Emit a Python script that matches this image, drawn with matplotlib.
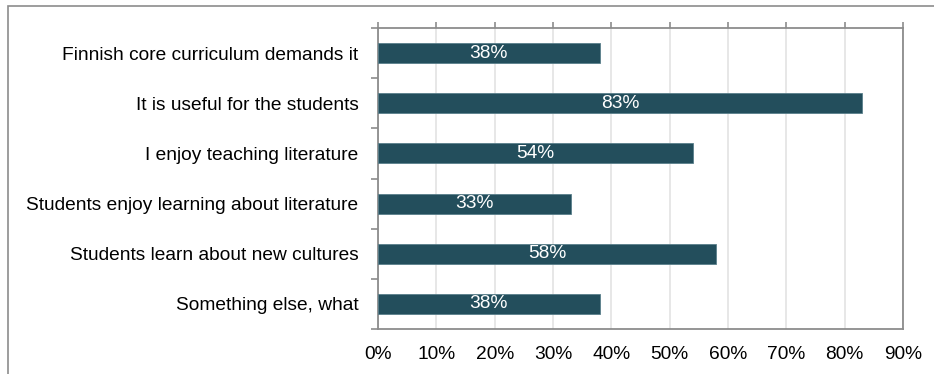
import matplotlib.pyplot as plt
from matplotlib.patches import Rectangle
from matplotlib.ticker import FixedLocator, PercentFormatter

plt.rcParams['font.family'] = ['Liberation Sans', 'DejaVu Sans']

# reasons for teaching literature, share of respondents (%)
reasons = [
    "Finnish core curriculum demands it",
    "It is useful for the students",
    "I enjoy teaching literature",
    "Students enjoy learning about literature",
    "Students learn about new cultures",
    "Something else, what",
]
shares = [38, 83, 54, 33, 58, 38]

bar_color = "#234e5c"
axis_gray = "#8c8c8c"
fs = 13.8

fig = plt.figure(figsize=(9.34, 3.74), dpi=100)
ax = fig.add_axes([378 / 934, 45 / 374, 525 / 934, 301 / 374])

ypos = list(range(len(reasons)))
bars = ax.barh(ypos, shares, height=0.4, color=bar_color,
               edgecolor="#5a7f8b", linewidth=0.6, zorder=3)
for b, v in zip(bars, shares):
    ax.text(b.get_width() / 2, b.get_y() + b.get_height() / 2, f"{v}%",
            ha="center", va="center", color="white", fontsize=fs, zorder=4)

ax.set_ylim(len(reasons) - 0.5, -0.5)
ax.set_xlim(0, 90)
ax.set_yticks(ypos)
ax.set_yticklabels(reasons, fontsize=fs)
ax.yaxis.set_minor_locator(FixedLocator([i - 0.5 for i in range(len(reasons) + 1)]))
ax.tick_params(axis="y", which="major", length=0, pad=14)
ax.tick_params(axis="y", which="minor", length=5, width=1.2, color=axis_gray)

ax.set_xticks(range(0, 91, 10))
ax.xaxis.set_major_formatter(PercentFormatter(decimals=0))
ax.tick_params(axis="x", labelsize=fs, length=4, width=1.2, color=axis_gray,
               direction="out", bottom=False, top=True, labeltop=False,
               labelbottom=True, pad=8)

ax.grid(axis="x", color="#e3e3e3", linewidth=1.2, zorder=0)
for s in ax.spines.values():
    s.set_color(axis_gray)
    s.set_linewidth(1.3)

# frame around the whole chart area
fig.patches.append(Rectangle((8 / 934, -0.05), 1.0, 1.05 - 6 / 374,
                             transform=fig.transFigure, fill=False,
                             edgecolor=axis_gray, linewidth=1.2))

fig.savefig("out.png", dpi=100)
